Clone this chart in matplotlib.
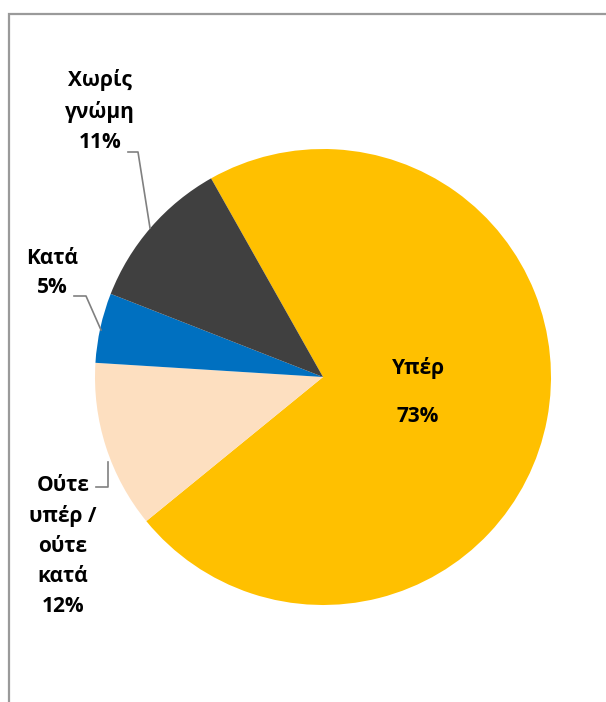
import matplotlib.pyplot as plt

plt.rcParams['font.family'] = ['Open Sans', 'DejaVu Sans']

labels = ['Υπέρ', 'Ούτε\nυπέρ /\nούτε\nκατά', 'Κατά', 'Χωρίς\nγνώμη']
values = [73, 12, 5, 11]
colors = ['#FFC000', '#FDDFC0', '#0070C0', '#404040']

W, H = 606, 702
fig = plt.figure(figsize=(W / 100, H / 100), dpi=100)
ax = fig.add_axes([0, 0, 1, 1])

ax.pie(values, colors=colors, startangle=119.4, counterclock=False,
       center=(323, H - 377), radius=228, frame=True,
       wedgeprops=dict(linewidth=0))
ax.set_xlim(0, W)
ax.set_ylim(0, H)
ax.set_aspect('equal')
ax.axis('off')

txt = dict(fontsize=15, fontweight='bold', color='black',
           ha='center', va='center', linespacing=1.56)

# data labels
ax.text(418, H - 392, f'{labels[0]}\n\n{values[0]}%',
        **{**txt, 'linespacing': 1.2})
ax.text(100, H - 111, f'{labels[3]}\n{values[3]}%', **txt)
ax.text(52, H - 273, f'{labels[2]}\n{values[2]}%', **txt)
ax.text(63, H - 546, f'{labels[1]}\n{values[1]}%', **txt)

# leader lines
lc = dict(color='#808080', lw=1.2)
ax.plot([128, 138, 150], [H - 152, H - 152, H - 228], **lc)
ax.plot([74, 86, 101], [H - 296, H - 296, H - 330], **lc)
ax.plot([96, 108, 108], [H - 487, H - 487, H - 462], **lc)

# chart frame
ax.plot([8.5, 8.5, W], [0, H - 13.5, H - 13.5], color='#9a9a9a', lw=1.6,
        solid_joinstyle='miter', clip_on=False)

fig.savefig('out.png', dpi=100)
